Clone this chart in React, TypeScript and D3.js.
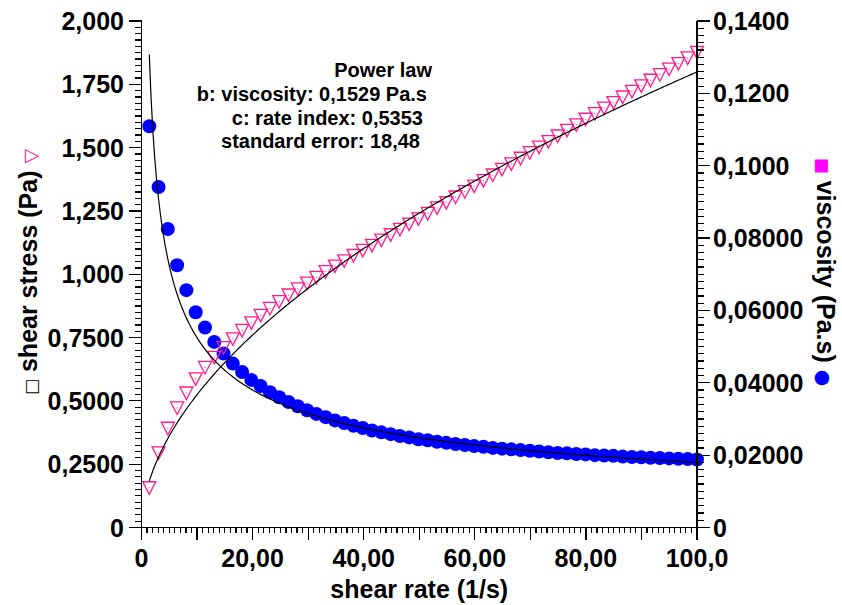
import React from "react";
import * as d3 from "d3";

// Measured flow curve: shear rate (1/s), shear stress (Pa), viscosity (Pa.s)
const shearRate = [
  1.4, 3.07, 4.74, 6.41, 8.08, 9.76, 11.43, 13.1, 14.77, 16.44,
  18.11, 19.78, 21.45, 23.12, 24.79, 26.47, 28.14, 29.81, 31.48, 33.15,
  34.82, 36.49, 38.16, 39.83, 41.5, 43.18, 44.85, 46.52, 48.19, 49.86,
  51.53, 53.2, 54.87, 56.54, 58.21, 59.89, 61.56, 63.23, 64.9, 66.57,
  68.24, 69.91, 71.58, 73.25, 74.92, 76.6, 78.27, 79.94, 81.61, 83.28,
  84.95, 86.62, 88.29, 89.96, 91.63, 93.31, 94.98, 96.65, 98.32, 100.0,
];

const shearStress = [
  0.157, 0.295, 0.392, 0.472, 0.531, 0.587, 0.632, 0.672, 0.71, 0.745,
  0.778, 0.808, 0.838, 0.865, 0.892, 0.918, 0.942, 0.965, 0.988, 1.01,
  1.032, 1.053, 1.074, 1.094, 1.114, 1.135, 1.156, 1.177, 1.198, 1.219,
  1.24, 1.262, 1.283, 1.305, 1.326, 1.348, 1.37, 1.392, 1.414, 1.436,
  1.458, 1.48, 1.502, 1.524, 1.546, 1.568, 1.59, 1.612, 1.634, 1.656,
  1.678, 1.7, 1.722, 1.744, 1.766, 1.788, 1.81, 1.832, 1.854, 1.876,
];

const viscosity = [
  0.1109, 0.0941, 0.0825, 0.0725, 0.0656, 0.0595, 0.0553, 0.0513, 0.0481, 0.0453,
  0.043, 0.0408, 0.0391, 0.0374, 0.036, 0.0347, 0.0335, 0.0324, 0.0314, 0.0305,
  0.0296, 0.0289, 0.0281, 0.0275, 0.0268, 0.0263, 0.0258, 0.0253, 0.0249, 0.0244,
  0.0241, 0.0237, 0.0234, 0.0231, 0.0228, 0.0225, 0.0223, 0.022, 0.0218, 0.0216,
  0.0214, 0.0212, 0.021, 0.0208, 0.0206, 0.0205, 0.0203, 0.0202, 0.02, 0.0199,
  0.0198, 0.0196, 0.0195, 0.0194, 0.0193, 0.0192, 0.0191, 0.019, 0.0189, 0.0188,
];

// Power law model parameters
const fitViscosityB = 0.1529;
const fitRateIndexC = 0.5353;
const fitRange = [1.4, 100];

const annotationLines = [
  "Power law",
  "b: viscosity: 0,1529 Pa.s",
  "c: rate index: 0,5353",
  "standard error: 18,48",
];

const xTicks = [0, 20, 40, 60, 80, 100];
const xTickLabels = ["0", "20,00", "40,00", "60,00", "80,00", "100,0"];
const stressTicks = [0, 0.25, 0.5, 0.75, 1, 1.25, 1.5, 1.75, 2];
const stressTickLabels = ["0", "0,2500", "0,5000", "0,7500", "1,000", "1,250", "1,500", "1,750", "2,000"];
const viscTicks = [0, 0.02, 0.04, 0.06, 0.08, 0.1, 0.12, 0.14];
const viscTickLabels = ["0", "0,02000", "0,04000", "0,06000", "0,08000", "0,1000", "0,1200", "0,1400"];

const FONT = "'Liberation Sans', Arial, Helvetica, sans-serif";
const SYMBOL_FONT = "'DejaVu Sans', sans-serif";
const PINK = "#ff1a8c";
const BLUE = "#0000ff";
const MAGENTA = "#ff00ff";

export default function App() {
  const W = 842;
  const H = 605;
  const left = 141.5;
  const right = 697;
  const top = 21;
  const bottom = 527.5;

  const x = d3.scaleLinear().domain([0, 100]).range([left, right]);
  const yL = d3.scaleLinear().domain([0, 2]).range([bottom, top]);
  const yR = d3.scaleLinear().domain([0, 0.14]).range([bottom, top]);

  const fitRates = d3.range(0, 301).map((i) => fitRange[0] + ((fitRange[1] - fitRange[0]) * i) / 300);
  const stressFit = d3
    .line<number>()
    .x((r) => x(r))
    .y((r) => yL(fitViscosityB * Math.pow(r, fitRateIndexC)));
  const viscFit = d3
    .line<number>()
    .x((r) => x(r))
    .y((r) => yR(fitViscosityB * Math.pow(r, fitRateIndexC - 1)));

  const xMinor = d3.range(0, 101, 1);
  const stressMinor = d3.range(0, 81).map((i) => i * 0.025);
  const viscMinor = d3.range(0, 71).map((i) => i * 0.002);

  const tri = "M-6.5,-6L6.5,-6L0,6.5Z";

  return (
    <svg
      width={W}
      height={H}
      style={{ position: "absolute", left: 0, top: 0, background: "#fff" }}
      fontFamily={FONT}
      fontWeight="bold"
    >
      <rect width={W} height={H} fill="#fff" />

      {/* viscosity points */}
      <g>
        {shearRate.map((r, i) => (
          <circle key={"v" + i} cx={x(r)} cy={yR(viscosity[i])} r={7} fill={BLUE} />
        ))}
      </g>

      {/* shear stress points */}
      <g>
        {shearRate.map((r, i) => (
          <g key={"s" + i} transform={`translate(${x(r)},${yL(shearStress[i])})`}>
            <path d={tri} fill="none" stroke={PINK} strokeWidth={1.3} />
            <circle r={0.6} fill={PINK} />
          </g>
        ))}
      </g>

      {/* power law fits */}
      <path d={stressFit(fitRates) || ""} fill="none" stroke="#000" strokeWidth={1.2} />
      <path d={viscFit(fitRates) || ""} fill="none" stroke="#000" strokeWidth={1.2} />

      {/* axes */}
      <g stroke="#000" strokeWidth={1.2} shapeRendering="crispEdges">
        <line x1={left} y1={top} x2={left} y2={bottom} />
        <line x1={right} y1={top} x2={right} y2={bottom} />
        <line x1={left} y1={bottom} x2={right} y2={bottom} />
        {xMinor.map((v) => (
          <line key={"xm" + v} x1={x(v)} x2={x(v)} y1={bottom} y2={bottom + (v % 10 === 0 ? 12 : 5)} />
        ))}
        {stressMinor.map((v, i) => (
          <line key={"lm" + i} x1={left - (i % 10 === 0 ? 13 : 7)} x2={left} y1={yL(v)} y2={yL(v)} />
        ))}
        {viscMinor.map((v, i) => (
          <line key={"rm" + i} x1={right} x2={right + (i % 10 === 0 ? 13 : 7)} y1={yR(v)} y2={yR(v)} />
        ))}
      </g>

      {/* tick labels */}
      <g fontSize={25} fill="#000">
        {xTicks.map((v, i) => (
          <text key={"xl" + v} x={x(v)} y={566.5} textAnchor="middle">
            {xTickLabels[i]}
          </text>
        ))}
        {stressTicks.map((v, i) => (
          <text key={"ll" + v} x={124} y={yL(v) + 9} textAnchor="end">
            {stressTickLabels[i]}
          </text>
        ))}
        {viscTicks.map((v, i) => (
          <text key={"rl" + v} x={713} y={yR(v) + 9} textAnchor="start">
            {viscTickLabels[i]}
          </text>
        ))}
      </g>

      {/* axis titles */}
      <text x={(left + right) / 2} y={598} textAnchor="middle" fontSize={25}>
        shear rate (1/s)
      </text>
      <text transform="translate(37,272) rotate(-90)" textAnchor="middle" fontSize={25}>
        <tspan fontFamily={SYMBOL_FONT} fontWeight="normal" fontSize={17}>□</tspan>
        <tspan> shear stress (Pa) </tspan>
        <tspan fontFamily={SYMBOL_FONT} fontWeight="normal" fontSize={19} fill={PINK}>▽</tspan>
      </text>
      <text transform="translate(817,272) rotate(90)" textAnchor="middle" fontSize={25}>
        <tspan fontFamily={SYMBOL_FONT} fontWeight="normal" fontSize={17} fill={MAGENTA}>■</tspan>
        <tspan> viscosity (Pa.s) </tspan>
        <tspan fontFamily={SYMBOL_FONT} fontWeight="normal" fontSize={19} fill={BLUE}>●</tspan>
      </text>

      {/* fit annotation */}
      <g fontSize={20} fill="#000" textAnchor="end">
        <text x={432} y={77}>{annotationLines[0]}</text>
        <text x={427} y={101}>{annotationLines[1]}</text>
        <text x={423} y={124.5}>{annotationLines[2]}</text>
        <text x={420} y={148}>{annotationLines[3]}</text>
      </g>
    </svg>
  );
}
